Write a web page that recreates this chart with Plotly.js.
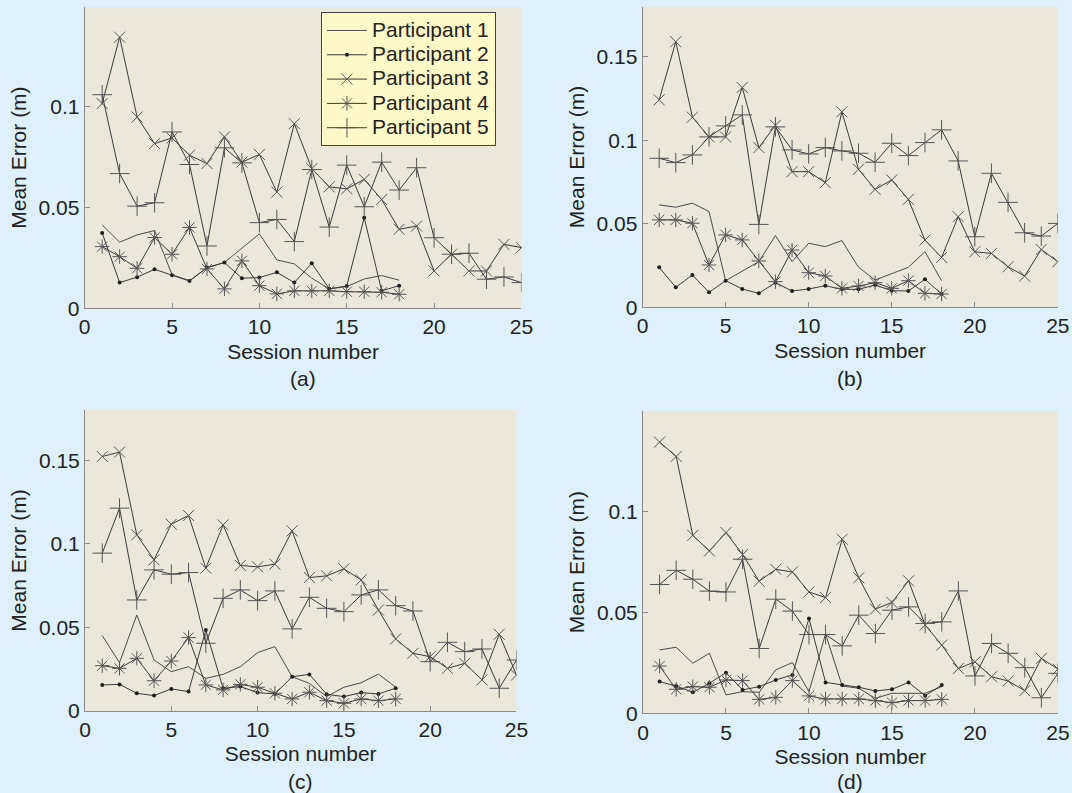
<!DOCTYPE html>
<html>
<head>
<meta charset="utf-8">
<script src="https://cdn.plot.ly/plotly-3.0.1.min.js"></script>
<style>
  html, body { margin: 0; padding: 0; background: #dff0fb; }
  #chart { width: 1072px; height: 793px; }
</style>
</head>
<body>
<div id="chart"></div>
<script>
// Sessions
const sessionsShort = [1,2,3,4,5,6,7,8,9,10,11,12,13,14,15,16,17,18];
const sessionsLong = [1,2,3,4,5,6,7,8,9,10,11,12,13,14,15,16,17,18,19,20,21,22,23,24,25];
const seriesNames = ["Participant 1","Participant 2","Participant 3","Participant 4","Participant 5"];
const panelLabels = ["(a)","(b)","(c)","(d)"];
const xTickVals = [0,5,10,15,20,25];

// Panel (a)
const a_p1 = [0.0414,0.0328,0.0364,0.0386,0.0166,0.0137,0.0200,0.0227,0.0298,0.0369,0.0240,0.0220,0.0149,0.0096,0.0107,0.0145,0.0162,0.0139];
const a_p2 = [0.0374,0.0127,0.0154,0.0193,0.0164,0.0135,0.0202,0.0227,0.0149,0.0152,0.0178,0.0127,0.0223,0.0096,0.0110,0.0450,0.0086,0.0112];
const a_p3 = [0.1017,0.1347,0.0950,0.0818,0.0846,0.0760,0.0719,0.0851,0.0726,0.0764,0.0577,0.0917,0.0693,0.0603,0.0593,0.0640,0.0540,0.0392,0.0408,0.0185,0.0268,0.0185,0.0185,0.0317,0.0301];
const a_p4 = [0.0306,0.0256,0.0198,0.0351,0.0268,0.0401,0.0195,0.0096,0.0235,0.0112,0.0071,0.0086,0.0086,0.0086,0.0082,0.0082,0.0079,0.0069];
const a_p5 = [0.1061,0.0669,0.0507,0.0524,0.0876,0.0714,0.0309,0.0797,0.0722,0.0425,0.0441,0.0331,0.0689,0.0403,0.0711,0.0504,0.0726,0.0587,0.0698,0.0350,0.0268,0.0273,0.0144,0.0155,0.0127];

// Panel (b)
const b_p1 = [0.0613,0.0599,0.0623,0.0573,0.0159,0.0217,0.0273,0.0429,0.0273,0.0383,0.0363,0.0399,0.0239,0.0163,0.0203,0.0239,0.0333,0.0159];
const b_p2 = [0.0239,0.0119,0.0193,0.0089,0.0159,0.0109,0.0083,0.0147,0.0097,0.0109,0.0129,0.0107,0.0107,0.0133,0.0099,0.0097,0.0167,0.0079];
const b_p3 = [0.1242,0.1590,0.1138,0.1020,0.1020,0.1316,0.0956,0.1090,0.0812,0.0812,0.0746,0.1170,0.0826,0.0706,0.0762,0.0646,0.0402,0.0298,0.0542,0.0332,0.0322,0.0242,0.0186,0.0346,0.0272];
const b_p4 = [0.0523,0.0523,0.0503,0.0253,0.0433,0.0403,0.0277,0.0153,0.0343,0.0207,0.0187,0.0113,0.0127,0.0147,0.0113,0.0159,0.0083,0.0079];
const b_p5 = [0.0892,0.0866,0.0912,0.1020,0.1086,0.1152,0.0496,0.1080,0.0942,0.0918,0.0956,0.0936,0.0922,0.0868,0.0982,0.0908,0.0986,0.1062,0.0876,0.0422,0.0802,0.0628,0.0446,0.0426,0.0502];

// Panel (c)
const c_p1 = [0.0451,0.0289,0.0574,0.0305,0.0235,0.0265,0.0195,0.0219,0.0265,0.0349,0.0385,0.0205,0.0165,0.0086,0.0142,0.0169,0.0221,0.0142];
const c_p2 = [0.0156,0.0159,0.0106,0.0092,0.0132,0.0116,0.0484,0.0136,0.0146,0.0110,0.0102,0.0205,0.0219,0.0100,0.0086,0.0110,0.0102,0.0136];
const c_p3 = [0.1522,0.1548,0.1053,0.0904,0.1117,0.1169,0.0854,0.1113,0.0870,0.0862,0.0878,0.1077,0.0798,0.0808,0.0850,0.0784,0.0604,0.0431,0.0345,0.0325,0.0255,0.0285,0.0186,0.0459,0.0215];
const c_p4 = [0.0271,0.0255,0.0315,0.0181,0.0299,0.0439,0.0156,0.0126,0.0159,0.0142,0.0106,0.0072,0.0112,0.0062,0.0046,0.0072,0.0062,0.0072];
const c_p5 = [0.0944,0.1213,0.0664,0.0844,0.0818,0.0828,0.0405,0.0674,0.0724,0.0660,0.0718,0.0491,0.0680,0.0614,0.0594,0.0694,0.0724,0.0630,0.0598,0.0295,0.0411,0.0355,0.0371,0.0136,0.0305];

// Panel (d)
const d_p1 = [0.0314,0.0327,0.0248,0.0297,0.0091,0.0107,0.0104,0.0215,0.0251,0.0107,0.0393,0.0135,0.0124,0.0074,0.0099,0.0099,0.0099,0.0132];
const d_p2 = [0.0157,0.0135,0.0104,0.0149,0.0201,0.0116,0.0132,0.0165,0.0190,0.0470,0.0153,0.0140,0.0129,0.0111,0.0119,0.0153,0.0087,0.0140];
const d_p3 = [0.1343,0.1272,0.0881,0.0804,0.0895,0.0786,0.0654,0.0713,0.0700,0.0601,0.0573,0.0862,0.0671,0.0516,0.0549,0.0656,0.0437,0.0338,0.0222,0.0255,0.0181,0.0160,0.0112,0.0272,0.0219];
const d_p4 = [0.0234,0.0119,0.0132,0.0129,0.0165,0.0162,0.0069,0.0079,0.0162,0.0086,0.0071,0.0071,0.0071,0.0063,0.0053,0.0063,0.0063,0.0069];
const d_p5 = [0.0638,0.0708,0.0664,0.0605,0.0601,0.0763,0.0321,0.0565,0.0506,0.0390,0.0390,0.0334,0.0486,0.0395,0.0511,0.0527,0.0445,0.0453,0.0606,0.0185,0.0346,0.0297,0.0226,0.0077,0.0198];

const panels = [
  [a_p1,a_p2,a_p3,a_p4,a_p5],
  [b_p1,b_p2,b_p3,b_p4,b_p5],
  [c_p1,c_p2,c_p3,c_p4,c_p5],
  [d_p1,d_p2,d_p3,d_p4,d_p5]
];

const lineColor = "#3a3a3a";
const markerColor = "#555555";
const styles = [
  {mode:"lines", line:{color:"#4a4a4a", width:1}},
  {mode:"lines+markers", line:{color:lineColor, width:1}, marker:{symbol:"circle", size:4, color:"#1e1e1e"}},
  {mode:"lines+markers", line:{color:lineColor, width:1}, marker:{symbol:"x-thin-open", size:11, color:markerColor, line:{width:1, color:markerColor}}},
  {mode:"lines+markers", line:{color:lineColor, width:1}, marker:{symbol:"asterisk-open", size:12, color:markerColor, line:{width:1, color:markerColor}}},
  {mode:"lines+markers", line:{color:lineColor, width:1}, marker:{symbol:"cross-thin-open", size:14, color:markerColor, line:{width:1, color:markerColor}}}
];

const traces = [];
panels.forEach((series, pi) => {
  const axSuffix = pi === 0 ? "" : String(pi + 1);
  series.forEach((vals, si) => {
    const t = Object.assign({
      type: "scatter",
      x: vals.length === 18 ? sessionsShort : sessionsLong,
      y: vals,
      name: '<span style="font-size:21px">' + seriesNames[si] + '</span>',
      showlegend: pi === 0,
      xaxis: "x" + axSuffix,
      yaxis: "y" + axSuffix,
      hoverinfo: "x+y+name"
    }, JSON.parse(JSON.stringify(styles[si])));
    traces.push(t);
  });
});

const fontFamily = "'Liberation Sans', Arial, Helvetica, sans-serif";
const domains = [
  {x:[0.0790,0.4864], y:[0.6114,0.9912], ymax:0.1497, yt:[0,0.05,0.1]},
  {x:[0.5994,0.9868], y:[0.6126,0.9916], ymax:0.18, yt:[0,0.05,0.1,0.15]},
  {x:[0.0793,0.4818], y:[0.1034,0.4830], ymax:0.18, yt:[0,0.05,0.1,0.15]},
  {x:[0.5998,0.9869], y:[0.1005,0.4817], ymax:0.1497, yt:[0,0.05,0.1]}
];

function fmt(v){ return v === 0 ? "0" : String(v); }

const layout = {
  width: 1072, height: 793,
  margin: {l:0, r:0, t:0, b:0},
  paper_bgcolor: "#dff0fb",
  plot_bgcolor: "#ebe8db",
  font: {family: fontFamily, size: 21, color: "#222222"},
  showlegend: true,
  legend: {
    x: 0.2994, y: 0.9845, xanchor: "left", yanchor: "top",
    bgcolor: "#fff9c8", bordercolor: "#444444", borderwidth: 1,
    font: {family: fontFamily, size: 16.4, color: "#222222"},
    tracegroupgap: 0, itemwidth: 40
  },
  annotations: []
};

domains.forEach((d, i) => {
  const s = i === 0 ? "" : String(i + 1);
  layout["xaxis" + s] = {
    domain: d.x, anchor: "y" + s, range: [0, 25],
    tickvals: xTickVals, ticktext: xTickVals.map(String),
    showline: true, linecolor: "#8a8a8a", linewidth: 1,
    ticks: "inside", ticklen: 5, tickcolor: "#8a8a8a",
    showgrid: false, zeroline: false, fixedrange: true,
    tickfont: {size: 21, color: "#222222"},
    title: {text: "Session number", font: {size: 21, color: "#222222"}, standoff: 6}
  };
  layout["yaxis" + s] = {
    domain: d.y, anchor: "x" + s, range: [0, d.ymax],
    tickvals: d.yt, ticktext: d.yt.map(fmt),
    showline: true, linecolor: "#8a8a8a", linewidth: 1,
    ticks: "inside", ticklen: 5, tickcolor: "#8a8a8a",
    showgrid: false, zeroline: false, fixedrange: true,
    tickfont: {size: 21, color: "#222222"},
    title: {text: "Mean Error (m)", font: {size: 21, color: "#222222"}, standoff: 6}
  };
  layout.annotations.push({
    text: panelLabels[i], xref: "paper", yref: "paper",
    x: (d.x[0] + d.x[1]) / 2, y: i < 2 ? 1 - 378/793 : 1 - 781/793,
    xanchor: "center", yanchor: "middle", showarrow: false,
    font: {size: 21, color: "#222222"}
  });
});

Plotly.newPlot("chart", traces, layout, {displayModeBar: false, staticPlot: true});
</script>
</body>
</html>
